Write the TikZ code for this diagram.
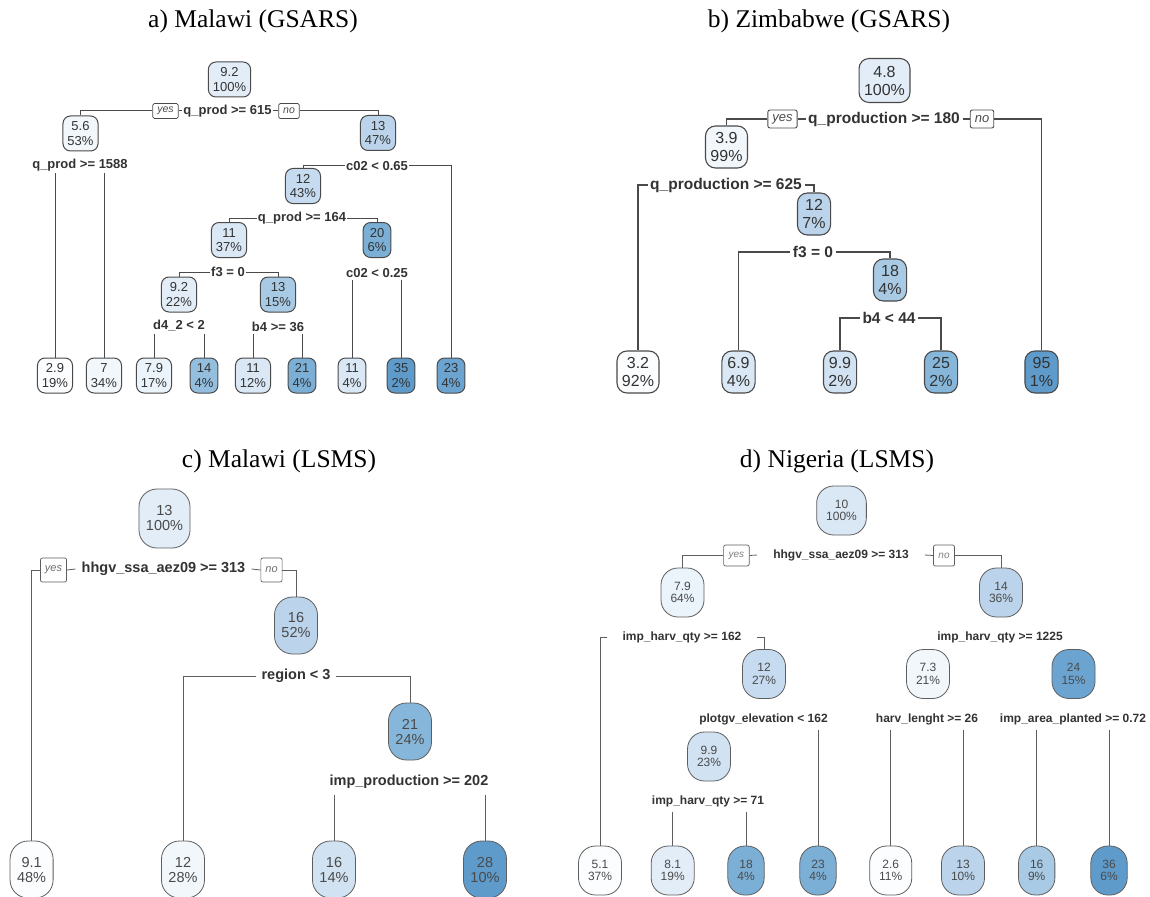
\documentclass[tikz,border=0pt]{standalone}
\usepackage{fontspec}
\setmainfont{Liberation Serif}
\newfontfamily\arial{Liberation Sans}
\definecolor{lc}{HTML}{4A4A4A}
\definecolor{lcl}{HTML}{5E5E5E}
\definecolor{tc}{HTML}{333333}
\definecolor{tcl}{HTML}{4A4A4A}
\definecolor{w0}{HTML}{FBFDFF}
\definecolor{w1}{HTML}{F2F7FC}
\definecolor{w2}{HTML}{EBF3FB}
\definecolor{w3}{HTML}{E3EDF8}
\definecolor{w4}{HTML}{DAE7F5}
\definecolor{w5}{HTML}{D1E2F2}
\definecolor{w6}{HTML}{C6DBEF}
\definecolor{w7}{HTML}{BBD4EB}
\definecolor{w8}{HTML}{A8CAE4}
\definecolor{w9}{HTML}{93BEDE}
\definecolor{w10}{HTML}{86B7DA}
\definecolor{w11}{HTML}{7BAFD6}
\definecolor{w12}{HTML}{6BA4D0}
\definecolor{w13}{HTML}{5E9BCB}
\tikzset{
  ttl/.style={font=\fontsize{25.5}{28}\selectfont, anchor=base, inner sep=0pt},
  bn/.style={draw=lc, align=center, text=tc, inner ysep=0pt},
  nA/.style={bn, line width=1pt, rounded corners=7.5pt, inner xsep=4.5pt, font=\arial\fontsize{13}{14.7}\selectfont, minimum height=35pt},
  nB/.style={bn, line width=1.1pt, rounded corners=10pt, inner xsep=5pt, font=\arial\fontsize{16}{18}\selectfont, minimum height=42pt},
  nC/.style={bn, draw=lcl, text=tcl, line width=0.8pt, rounded corners=18pt, inner xsep=7pt, font=\arial\fontsize{14.5}{15}\selectfont, minimum height=57pt},
  nD/.style={bn, draw=lcl, text=tcl, line width=0.8pt, rounded corners=17pt, inner xsep=9.5pt, font=\arial\fontsize{12}{12.5}\selectfont, minimum height=49pt},
  sA/.style={font=\arial\bfseries\fontsize{13}{14}\selectfont, text=tc, inner xsep=1pt, inner ysep=2pt},
  sB/.style={font=\arial\bfseries\fontsize{15.5}{17}\selectfont, text=tc, inner xsep=2.5pt, inner ysep=2pt},
  sC/.style={font=\arial\bfseries\fontsize{14.5}{16}\selectfont, text=tc, inner xsep=6pt, inner ysep=6pt},
  sD/.style={font=\arial\bfseries\fontsize{12}{13}\selectfont, text=tc, inner xsep=15pt, inner ysep=5pt},
  ynA/.style={draw=lc, line width=0.8pt, rounded corners=1.5pt, font=\arial\itshape\fontsize{10.5}{11}\selectfont, text=tcl, inner xsep=4.5pt, inner ysep=0pt, minimum height=15pt},
  ynB/.style={draw=lc, line width=0.9pt, rounded corners=2pt, font=\arial\itshape\fontsize{13}{14}\selectfont, text=tcl, inner xsep=4.5pt, inner ysep=0pt, minimum height=18pt},
  ynC/.style={draw=lcl, line width=0.7pt, rounded corners=2pt, font=\arial\itshape\fontsize{11}{12}\selectfont, text=tcl!80, inner xsep=4.5pt, inner ysep=0pt, minimum height=24pt},
  ynD/.style={draw=lcl, line width=0.7pt, rounded corners=2pt, font=\arial\itshape\fontsize{10}{11}\selectfont, text=tcl!70, inner xsep=5pt, inner ysep=0pt, minimum height=21pt},
  eA/.style={draw=lc, line width=1pt},
  eB/.style={draw=lc, line width=1.1pt},
  eC/.style={draw=lcl, line width=0.8pt},
  eD/.style={draw=lcl, line width=0.8pt},
}
\begin{document}
\begin{tikzpicture}[x=1pt, y=-1pt]
\useasboundingbox (0,0) rectangle (1150,896);
\clip (0,0) rectangle (1150,896);
\fill[white] (0,0) rectangle (1150,896);

% titles
\node[ttl] (ta) at (253,28) {a) Malawi (GSARS)};
\node[ttl] (tb) at (829,28) {b) Zimbabwe (GSARS)};
\node[ttl] (tc) at (279,467) {c) Malawi (LSMS)};
\node[ttl] (td) at (837,467) {d) Nigeria (LSMS)};

% ---------------- panel a ----------------
\node[nA, fill=w3] (a_r) at (229.5,79.5) {9.2\\100\%};
\node[sA] (a_s1) at (227.5,111) {q\_prod >= 615};
\node[ynA] (a_yes) at (165.5,111) {yes};
\node[ynA] (a_no) at (289,111) {no};
\node[nA, fill=w1] (a_n56) at (80.5,133.5) {5.6\\53\%};
\node[nA, fill=w7] (a_n13) at (378,133) {13\\47\%};
\draw[eA] (a_yes.west) -| (a_n56.north);
\draw[eA] (a_yes.east) -- (a_s1.west);
\draw[eA] (a_s1.east) -- (a_no.west);
\draw[eA] (a_no.east) -| (a_n13.north);

\node[sA] (a_s1588) at (80,165) {q\_prod >= 1588};
\node[sA] (a_c065) at (377,166) {c02 < 0.65};
\node[nA, fill=w6] (a_n12) at (303,186) {12\\43\%};
\node[sA] (a_q164) at (302,218) {q\_prod >= 164};
\node[nA, fill=w4] (a_n11) at (229,240) {11\\37\%};
\node[nA, fill=w11] (a_n20) at (377,240) {20\\6\%};
\node[sA] (a_f3) at (228,272) {f3 = 0};
\node[sA] (a_c025) at (377,273) {c02 < 0.25};
\node[nA, fill=w3] (a_n92) at (179,294.5) {9.2\\22\%};
\node[nA, fill=w8] (a_n13b) at (278,294.5) {13\\15\%};
\node[sA] (a_d4) at (179,326) {d4\_2 < 2};
\node[sA] (a_b4) at (278,327) {b4 >= 36};

\node[nA, fill=w0] (a_l29) at (55,375.5) {2.9\\19\%};
\node[nA, fill=w1] (a_l7) at (104,375.5) {7\\34\%};
\node[nA, fill=w2] (a_l79) at (154,375.5) {7.9\\17\%};
\node[nA, fill=w9] (a_l14) at (204,375.5) {14\\4\%};
\node[nA, fill=w4] (a_l11) at (253,375.5) {11\\12\%};
\node[nA, fill=w11] (a_l21) at (302,375.5) {21\\4\%};
\node[nA, fill=w4] (a_l11b) at (352,375.5) {11\\4\%};
\node[nA, fill=w13] (a_l35) at (401,375.5) {35\\2\%};
\node[nA, fill=w12] (a_l23) at (451,375.5) {23\\4\%};

\draw[eA] (a_l29.north |- a_s1588.south) -- (a_l29.north);
\draw[eA] (a_l7.north |- a_s1588.south) -- (a_l7.north);
\draw[eA] (a_c065.west) -| (a_n12.north);
\draw[eA] (a_c065.east) -| (a_l23.north);
\draw[eA] (a_q164.west) -| (a_n11.north);
\draw[eA] (a_q164.east) -| (a_n20.north);
\draw[eA] (a_f3.west) -| (a_n92.north);
\draw[eA] (a_f3.east) -| (a_n13b.north);
\draw[eA] (a_l79.north |- a_d4.south) -- (a_l79.north);
\draw[eA] (a_l14.north |- a_d4.south) -- (a_l14.north);
\draw[eA] (a_l11.north |- a_b4.south) -- (a_l11.north);
\draw[eA] (a_l21.north |- a_b4.south) -- (a_l21.north);
\draw[eA] (a_l11b.north |- a_c025.south) -- (a_l11b.north);
\draw[eA] (a_l35.north |- a_c025.south) -- (a_l35.north);

% ---------------- panel b ----------------
\node[nB, fill=w3, minimum height=44pt] (b_r) at (884.5,80.5) {4.8\\100\%};
\node[sB] (b_s1) at (884,119) {q\_production >= 180};
\node[ynB] (b_yes) at (782.5,119) {yes};
\node[ynB] (b_no) at (982,119) {no};
\node[nB, fill=w1] (b_n39) at (726.5,147) {3.9\\99\%};
\node[sB] (b_q625) at (726,185) {q\_production >= 625};
\node[nB, fill=w7] (b_n12) at (814,214) {12\\7\%};
\node[sB] (b_f3) at (813,252) {f3 = 0};
\node[nB, fill=w8] (b_n18) at (890,280) {18\\4\%};
\node[sB] (b_b4) at (889,318) {b4 < 44};
\node[nB, fill=w0] (b_l32) at (638,372) {3.2\\92\%};
\node[nB, fill=w4] (b_l69) at (738.5,372) {6.9\\4\%};
\node[nB, fill=w5] (b_l99) at (840,372) {9.9\\2\%};
\node[nB, fill=w10] (b_l25) at (941,372) {25\\2\%};
\node[nB, fill=w13] (b_l95) at (1041.5,372) {95\\1\%};
\draw[eB] (b_yes.west) -| (b_n39.north);
\draw[eB] (b_yes.east) -- (b_s1.west);
\draw[eB] (b_s1.east) -- (b_no.west);
\draw[eB] (b_no.east) -| (b_l95.north);
\draw[eB] (b_q625.west) -| (b_l32.north);
\draw[eB] (b_q625.east) -| (b_n12.north);
\draw[eB] (b_f3.west) -| (b_l69.north);
\draw[eB] (b_f3.east) -| (b_n18.north);
\draw[eB] (b_b4.west) -| (b_l99.north);
\draw[eB] (b_b4.east) -| (b_l25.north);

% ---------------- panel c ----------------
\node[nC, fill=w3, minimum height=59pt] (c_r) at (164.5,518.5) {13\\100\%};
\node[sC, inner ysep=2pt] (c_s1) at (163.5,569) {hhgv\_ssa\_aez09 >= 313};
\node[ynC] (c_yes) at (53.5,570) {yes};
\node[ynC] (c_no) at (271.5,570) {no};
\node[nC, fill=w7] (c_n16) at (296,625.5) {16\\52\%};
\node[sC, inner xsep=5pt] (c_reg) at (296,676) {region < 3};
\node[nC, fill=w10] (c_n21) at (410,731.5) {21\\24\%};
\node[sC] (c_imp) at (409,782) {imp\_production >= 202};
\node[nC, fill=w0] (c_l91) at (31.6,869.5) {9.1\\48\%};
\node[nC, fill=w1] (c_l12) at (183,869.5) {12\\28\%};
\node[nC, fill=w5] (c_l16) at (334,869.5) {16\\14\%};
\node[nC, fill=w13] (c_l28) at (485,869.5) {28\\10\%};
\draw[eC] (c_yes.west) -| (c_l91.north);
\draw[eC] (c_yes.east) -- (c_s1.west);
\draw[eC] (c_s1.east) -- (c_no.west);
\draw[eC] (c_no.east) -| (c_n16.north);
\draw[eC] (c_reg.west) -| (c_l12.north);
\draw[eC] (c_reg.east) -| (c_n21.north);
\draw[eC] (c_l16.north |- c_imp.south) -- (c_l16.north);
\draw[eC] (c_l28.north |- c_imp.south) -- (c_l28.north);

% ---------------- panel d ----------------
\node[nD, fill=w4] (d_r) at (841.5,510.5) {10\\100\%};
\node[sD, inner xsep=16pt, inner ysep=2pt] (d_s1) at (841,555) {hhgv\_ssa\_aez09 >= 313};
\node[ynD] (d_yes) at (736.4,555.5) {yes};
\node[ynD] (d_no) at (944,555.5) {no};
\node[nD, fill=w2] (d_n79) at (682.5,592.5) {7.9\\64\%};
\node[nD, fill=w7] (d_n14) at (1001,592.5) {14\\36\%};
\node[sD] (d_ihq) at (682,637) {imp\_harv\_qty >= 162};
\node[sD] (d_ihq2) at (1000,637) {imp\_harv\_qty >= 1225};
\node[nD, fill=w6] (d_n12) at (764,674) {12\\27\%};
\node[nD, fill=w1] (d_n73) at (928,674) {7.3\\21\%};
\node[nD, fill=w12] (d_n24) at (1073.5,674) {24\\15\%};
\node[sD, inner xsep=2pt] (d_pe) at (763.5,719) {plotgv\_elevation < 162};
\node[sD, inner xsep=2pt] (d_hl) at (927,719) {harv\_lenght >= 26};
\node[sD, inner xsep=2pt] (d_iap) at (1073,719) {imp\_area\_planted >= 0.72};
\node[nD, fill=w5] (d_n99) at (709,756.5) {9.9\\23\%};
\node[sD, inner xsep=2pt] (d_ih71) at (708,801) {imp\_harv\_qty >= 71};
\node[nD, fill=w0] (d_l51) at (600,870.5) {5.1\\37\%};
\node[nD, fill=w3] (d_l81) at (672.7,870.5) {8.1\\19\%};
\node[nD, fill=w11] (d_l18) at (746,870.5) {18\\4\%};
\node[nD, fill=w11] (d_l23) at (818,870.5) {23\\4\%};
\node[nD, fill=w0] (d_l26) at (890.7,870.5) {2.6\\11\%};
\node[nD, fill=w7] (d_l13) at (963,870.5) {13\\10\%};
\node[nD, fill=w8] (d_l16) at (1036.7,870.5) {16\\9\%};
\node[nD, fill=w13] (d_l36) at (1109,870.5) {36\\6\%};
\draw[eD] (d_yes.west) -| (d_n79.north);
\draw[eD] (d_yes.east) -- (d_s1.west);
\draw[eD] (d_s1.east) -- (d_no.west);
\draw[eD] (d_no.east) -| (d_n14.north);
\draw[eD] (d_ihq.west) -| (d_l51.north);
\draw[eD] (d_ihq.east) -| (d_n12.north);
\draw[eD] (d_l23.north |- d_pe.south) -- (d_l23.north);
\draw[eD] (d_l81.north |- d_ih71.south) -- (d_l81.north);
\draw[eD] (d_l18.north |- d_ih71.south) -- (d_l18.north);
\draw[eD] (d_l26.north |- d_hl.south) -- (d_l26.north);
\draw[eD] (d_l13.north |- d_hl.south) -- (d_l13.north);
\draw[eD] (d_l16.north |- d_iap.south) -- (d_l16.north);
\draw[eD] (d_l36.north |- d_iap.south) -- (d_l36.north);
\end{tikzpicture}
\end{document}
